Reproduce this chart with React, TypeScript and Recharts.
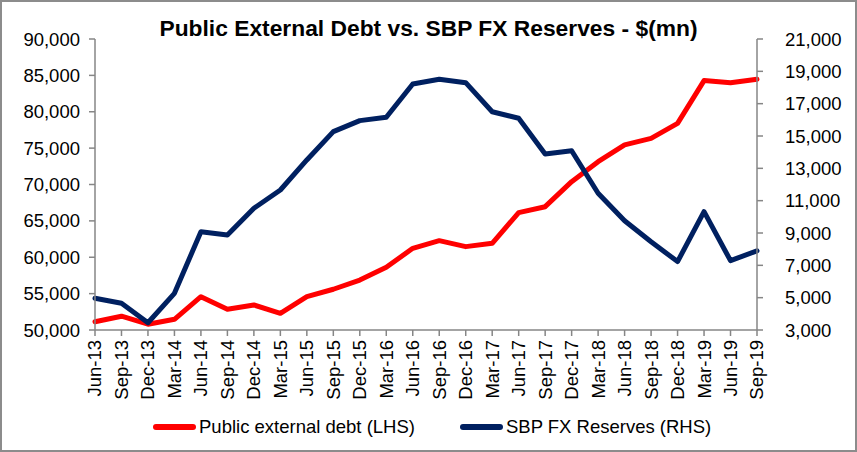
import { Line, LineChart, XAxis, YAxis } from 'recharts';

const quarters = [
  'Jun-13', 'Sep-13', 'Dec-13', 'Mar-14', 'Jun-14', 'Sep-14', 'Dec-14', 'Mar-15', 'Jun-15',
  'Sep-15', 'Dec-15', 'Mar-16', 'Jun-16', 'Sep-16', 'Dec-16', 'Mar-17', 'Jun-17', 'Sep-17',
  'Dec-17', 'Mar-18', 'Jun-18', 'Sep-18', 'Dec-18', 'Mar-19', 'Jun-19', 'Sep-19',
];

// public external debt, $mn (left axis)
const externalDebt = [
  51140, 51900, 50800, 51470, 54580, 52840, 53440, 52300, 54580,
  55600, 56870, 58620, 61230, 62280, 61460, 61920, 66130, 66950,
  70390, 73140, 75440, 76350, 78410, 84280, 84000, 84470,
];

// SBP FX reserves, $mn (right axis)
const fxReserves = [
  4960, 4650, 3450, 5270, 9080, 8880, 10530, 11660, 13520,
  15270, 15950, 16160, 18220, 18510, 18300, 16500, 16100, 13890,
  14090, 11460, 9760, 8460, 7230, 10320, 7290, 7900,
];

const leftTicks = [50000, 55000, 60000, 65000, 70000, 75000, 80000, 85000, 90000];
const rightTicks = [3000, 5000, 7000, 9000, 11000, 13000, 15000, 17000, 19000, 21000];

const data = quarters.map((q, i) => ({ q, debt: externalDebt[i], reserves: fxReserves[i] }));

const FONT = 'Arial, "Liberation Sans", sans-serif';
const AXIS = '#868686';
const RED = '#FF0000';
const NAVY = '#002060';

const fmt = (v: number) => v.toLocaleString('en-US');

function QuarterTick({ x, y, payload }: any) {
  return (
    <text
      x={x}
      y={y}
      transform={`rotate(-90 ${x} ${y})`}
      textAnchor="end"
      dy="0.35em"
      fontSize={18.5}
      fontFamily={FONT}
      fill="#000"
    >
      {payload.value}
    </text>
  );
}

function LegendItem({ color, label }: { color: string; label: string }) {
  return (
    <div style={{ display: 'flex', alignItems: 'center' }}>
      <div style={{ width: 43, height: 6, borderRadius: 3, background: color, marginRight: 3 }} />
      <span>{label}</span>
    </div>
  );
}

export default function App() {
  return (
    <div style={{ position: 'absolute', left: 0, top: 0, width: 857, height: 452, background: '#fff', fontFamily: FONT }}>
      <LineChart width={857} height={452} data={data} margin={{ top: 39, right: 0, bottom: 42, left: 0 }}>
        <XAxis
          dataKey="q"
          interval={0}
          height={80}
          tickSize={6}
          tickMargin={4}
          axisLine={{ stroke: AXIS, strokeWidth: 1.5 }}
          tickLine={{ stroke: AXIS, strokeWidth: 1.5 }}
          tick={<QuarterTick />}
        />
        <YAxis
          yAxisId="left"
          width={95}
          domain={[50000, 90000]}
          ticks={leftTicks}
          tickFormatter={fmt}
          tickSize={6}
          tickMargin={9}
          axisLine={{ stroke: AXIS, strokeWidth: 1.5 }}
          tickLine={{ stroke: AXIS, strokeWidth: 1.5 }}
          tick={{ fill: '#000', fontSize: 18.5, fontFamily: FONT }}
        />
        <YAxis
          yAxisId="right"
          orientation="right"
          width={100}
          domain={[3000, 21000]}
          ticks={rightTicks}
          tickFormatter={fmt}
          tickSize={6}
          tickMargin={22}
          axisLine={{ stroke: AXIS, strokeWidth: 1.5 }}
          tickLine={{ stroke: AXIS, strokeWidth: 1.5 }}
          tick={{ fill: '#000', fontSize: 18.5, fontFamily: FONT }}
        />
        <Line
          yAxisId="left"
          dataKey="debt"
          type="linear"
          stroke={RED}
          strokeWidth={5}
          strokeLinejoin="round"
          strokeLinecap="round"
          dot={false}
          isAnimationActive={false}
        />
        <Line
          yAxisId="right"
          dataKey="reserves"
          type="linear"
          stroke={NAVY}
          strokeWidth={5}
          strokeLinejoin="round"
          strokeLinecap="round"
          dot={false}
          isAnimationActive={false}
        />
      </LineChart>
      <div
        style={{
          position: 'absolute',
          left: 0,
          top: 13,
          width: 857,
          textAlign: 'center',
          fontWeight: 'bold',
          fontSize: 22.8,
          lineHeight: '30px',
          color: '#000',
        }}
      >
        Public External Debt vs. SBP FX Reserves - $(mn)
      </div>
      <div
        style={{
          position: 'absolute',
          left: 153,
          top: 414,
          display: 'flex',
          gap: 45,
          fontSize: 18.5,
          lineHeight: '26px',
          color: '#000',
        }}
      >
        <LegendItem color={RED} label="Public external debt (LHS)" />
        <LegendItem color={NAVY} label="SBP FX Reserves (RHS)" />
      </div>
      <div
        style={{
          position: 'absolute',
          inset: 0,
          border: '2px solid #8c8c8c',
          pointerEvents: 'none',
        }}
      />
    </div>
  );
}
